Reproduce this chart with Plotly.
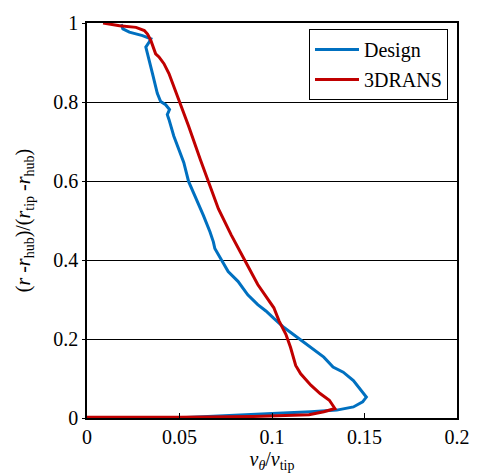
import plotly.graph_objects as go

# Swirl velocity profiles along the blade span
design_v = [0.048, 0.080, 0.103, 0.121, 0.135, 0.144, 0.149, 0.151, 0.148, 0.144,
            0.1385, 0.133, 0.128, 0.1207, 0.1136, 0.1065, 0.101, 0.0967, 0.0923, 0.0869,
            0.0816, 0.0763, 0.0727, 0.0691, 0.0683, 0.0665, 0.0629, 0.0585, 0.0549, 0.0523,
            0.0496, 0.0469, 0.0443, 0.0434, 0.0446, 0.0425, 0.0398, 0.038, 0.0354, 0.0327,
            0.0318, 0.0336, 0.0345, 0.030, 0.0229, 0.0194, 0.0185]
design_r = [0.000, 0.006, 0.012, 0.016, 0.020, 0.028, 0.041, 0.053, 0.070, 0.095,
            0.116, 0.129, 0.154, 0.179, 0.204, 0.229, 0.252, 0.271, 0.287, 0.312,
            0.346, 0.371, 0.400, 0.429, 0.446, 0.471, 0.513, 0.563, 0.599, 0.647,
            0.680, 0.714, 0.756, 0.768, 0.781, 0.793, 0.801, 0.822, 0.872, 0.922,
            0.939, 0.952, 0.960, 0.968, 0.977, 0.985, 0.997]

rans_v = [0.000, 0.050, 0.090, 0.120, 0.128, 0.134, 0.131, 0.126, 0.121, 0.1155,
          0.1128, 0.110, 0.1075, 0.1038, 0.101, 0.0985, 0.0949, 0.0923, 0.0852, 0.078,
          0.071, 0.0656, 0.0612, 0.0549, 0.0496, 0.0443, 0.0416, 0.0389, 0.0371, 0.0357,
          0.0345, 0.0327, 0.031, 0.0265, 0.0176, 0.0087]
rans_r = [0.002, 0.002, 0.004, 0.008, 0.016, 0.024, 0.045, 0.062, 0.083, 0.112,
          0.133, 0.179, 0.212, 0.246, 0.279, 0.296, 0.321, 0.338, 0.400, 0.463,
          0.530, 0.596, 0.655, 0.739, 0.806, 0.872, 0.897, 0.914, 0.922, 0.939,
          0.956, 0.972, 0.981, 0.989, 0.993, 1.000]

x_ticks = [0, 0.05, 0.1, 0.15, 0.2]
x_tick_text = ["0", "0.05", "0.1", "0.15", "0.2"]
y_ticks = [0, 0.2, 0.4, 0.6, 0.8, 1]
y_tick_text = ["0", "0.2", "0.4", "0.6", "0.8", "1"]

FONT = "Liberation Serif, Times New Roman, serif"
FS = 20

fig = go.Figure()
fig.add_trace(go.Scatter(x=design_v, y=design_r, mode="lines", name="Design",
                         legendgroup="design",
                         line=dict(color="#0070C0", width=3)))
fig.add_trace(go.Scatter(x=rans_v, y=rans_r, mode="lines", name="3DRANS",
                         legendgroup="rans",
                         line=dict(color="#C00000", width=3)))

fig.update_layout(
    width=482, height=476,
    margin=dict(l=87, r=20, t=19, b=58),
    paper_bgcolor="white", plot_bgcolor="white",
    font=dict(family=FONT, size=FS, color="black"),
    showlegend=True,
    legend=dict(x=0.6, y=0.985, xanchor="left", yanchor="top",
                bordercolor="black", borderwidth=1, bgcolor="white",
                font=dict(family=FONT, size=FS, color="black"),
                itemwidth=44, tracegroupgap=1),
    xaxis=dict(range=[0, 0.2], tickvals=x_ticks, ticktext=x_tick_text,
               showgrid=False, zeroline=False,
               showline=True, linecolor="black", linewidth=1.5, mirror=True,
               ticks="inside", ticklen=5, tickcolor="black", tickwidth=1,
               title=dict(text="<i>v</i><sub><i>θ</i></sub>/<i>v</i><sub>tip</sub>",
                          standoff=1, font=dict(family=FONT, size=FS))),
    yaxis=dict(range=[0, 1], tickvals=y_ticks, ticktext=y_tick_text,
               showgrid=True, gridcolor="black", gridwidth=1, zeroline=False,
               showline=True, linecolor="black", linewidth=1.5, mirror=True,
               ticks="outside", ticklen=3, tickcolor="black", tickwidth=1,
               title=dict(text="(<i>r</i> -<i>r</i><sub>hub</sub>)/(<i>r</i><sub>tip</sub> -<i>r</i><sub>hub</sub>)",
                          standoff=17, font=dict(family=FONT, size=FS))),
)

fig.write_html("out.html")
